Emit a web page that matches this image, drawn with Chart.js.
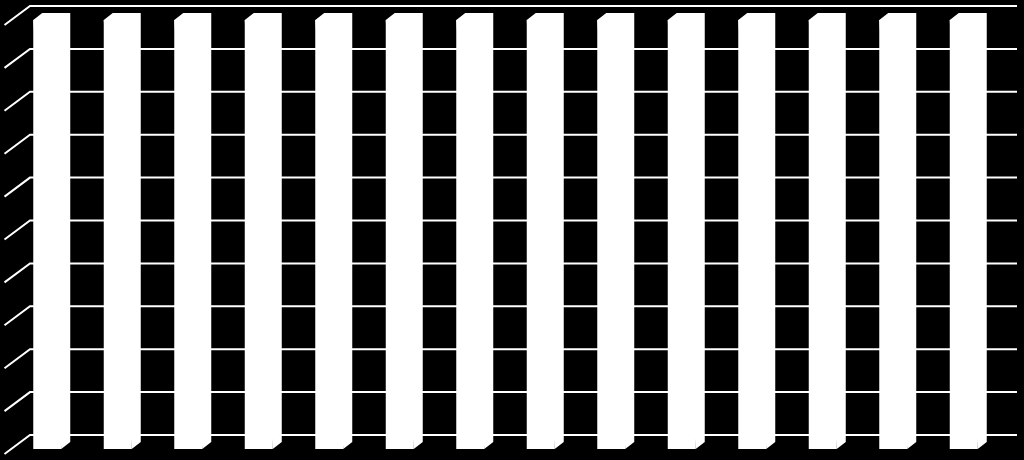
<!DOCTYPE html>
<html>
<head>
<meta charset="utf-8">
<script src="https://cdn.jsdelivr.net/npm/chart.js@4/dist/chart.umd.min.js"></script>
<style>
  html, body { margin: 0; padding: 0; background: #000; }
  #wrap { width: 1024px; height: 460px; }
</style>
</head>
<body>
<div id="wrap"><canvas id="c" width="1024" height="460"></canvas></div>
<script>
// ---- data ----
const categories = ["1","2","3","4","5","6","7","8","9","10","11","12","13","14"];
const values = [10,10,10,10,10,10,10,10,10,10,10,10,10,10];
const gridValues = [0,1,2,3,4,5,6,7,8,9,10];

// ---- 3D look ----
const BAR_DX = 9, BAR_DY = -7;      // bar depth
const WALL_DX = 18, WALL_DY = -14;  // back wall offset
const FRONT_DX = -7.5, FRONT_DY = 5; // side wall front edge offset

const threeD = {
  id: 'threeD',
  beforeDatasetsDraw(chart) {
    const ctx = chart.ctx;
    const y = chart.scales.y;
    const a = chart.chartArea;
    ctx.save();
    ctx.strokeStyle = '#ffffff';
    ctx.lineWidth = 2;
    gridValues.forEach(v => {
      const py = y.getPixelForValue(v);
      ctx.beginPath();
      ctx.moveTo(a.left + FRONT_DX, py + FRONT_DY);
      ctx.lineTo(a.left + WALL_DX, py + WALL_DY);
      ctx.lineTo(a.right + WALL_DX, py + WALL_DY);
      ctx.stroke();
    });
    ctx.restore();
  },
  afterDatasetsDraw(chart) {
    const ctx = chart.ctx;
    const meta = chart.getDatasetMeta(0);
    ctx.save();
    ctx.fillStyle = '#ffffff';
    meta.data.forEach(bar => {
      const p = bar.getProps(['x','y','base','width'], true);
      const l = p.x - p.width / 2, r = p.x + p.width / 2;
      ctx.beginPath();
      ctx.moveTo(l, p.y);
      ctx.lineTo(l + BAR_DX, p.y + BAR_DY);
      ctx.lineTo(r + BAR_DX, p.y + BAR_DY);
      ctx.lineTo(r + BAR_DX, p.base + BAR_DY);
      ctx.lineTo(r, p.base);
      ctx.closePath();
      ctx.fill();
    });
    ctx.restore();
  }
};

new Chart(document.getElementById('c'), {
  type: 'bar',
  data: {
    labels: categories,
    datasets: [{
      data: values,
      backgroundColor: '#ffffff',
      borderWidth: 0,
      categoryPercentage: 1,
      barPercentage: 0.397
    }]
  },
  options: {
    responsive: false,
    animation: false,
    devicePixelRatio: 1,
    layout: { padding: { left: 12, right: 25, top: 20, bottom: 11 } },
    plugins: { legend: { display: false }, tooltip: { enabled: false } },
    scales: {
      x: { display: false },
      y: { display: false, min: 0, max: 10 }
    }
  },
  plugins: [threeD]
});
</script>
</body>
</html>
